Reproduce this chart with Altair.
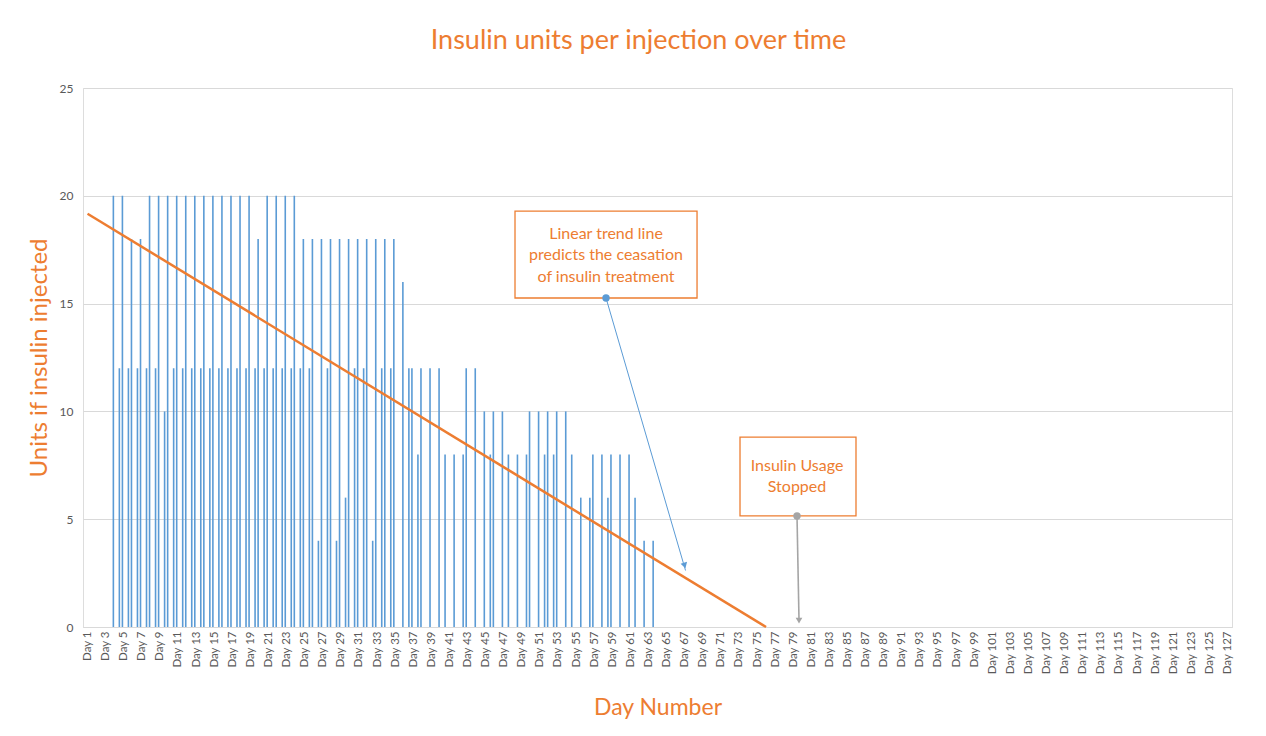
import altair as alt
import pandas as pd

ORANGE = "#ED7D31"
BLUE = "#5B9BD5"
GRAY = "#A5A5A5"
TXT = "#595959"
FONT = "Lato"

# ---- data ----
days = list(range(4, 64))
first_dose = [20, 20, 18, 18, 20, 20, 20, 20, 20, 20,          # days 4-13
              20, 20, 20, 20, 20, 20, 18, 20, 20, 20,          # days 14-23
              20, 18, 18, 18, 18, 18, 18, 18, 18, 18,          # days 24-33
              18, 18, 16, 12, 12, 12, 12, None, None, 12,      # days 34-43
              12, 10, 10, 10, None, None, 10, 10, 10, 10,      # days 44-53
              10, None, None, 8, 8, 8, 8, 8, None, None]       # days 54-63
second_dose = [12, 12, 12, 12, 12, 10, 12, 12, 12, 12,         # days 4-13
               12, 12, 12, 12, 12, 12, 12, 12, 12, 12,         # days 14-23
               12, 12, 4, 12, 4, 6, 12, 12, 4, 12,             # days 24-33
               12, None, 12, 8, None, None, 8, 8, 8, None,     # days 34-43
               None, 8, None, 8, 8, 8, None, 8, 8, None,       # days 44-53
               8, 6, 6, None, 6, None, None, 6, 4, 4]          # days 54-63

all_days = list(range(1, 128))
label_days = all_days[::2]

trend_days = [1, 76]
trend_units = [19.17, 0]

box_text = ["Linear trend line\npredicts the ceasation\nof insulin treatment",
            "Insulin Usage\nStopped"]
box_day = [48.25, 73.12]
box_day2 = [68.37, 85.94]
box_units = [19.29, 8.81]
box_units2 = [15.26, 5.15]
text_day = [58.31, 79.42]
text_units = [18.23, 7.47]

# arrows: start (dot), end
arrow_day = [58.31, 79.42]
arrow_units = [15.26, 5.15]
arrow_day2 = [67.1, 79.64]
arrow_units2 = [2.62, 0.35]
head_day = [67.0, 79.64]
head_units = [2.85, 0.3]

# ---- tables ----
df = pd.DataFrame({"day": days, "first": first_dose, "second": second_dose})
long = df.melt("day", var_name="dose", value_name="units").dropna()
trend = pd.DataFrame({"day": trend_days, "units": trend_units})
boxes = pd.DataFrame({"day": box_day, "day2": box_day2, "units": box_units,
                      "units2": box_units2})
texts = pd.DataFrame({"day": text_day, "units": text_units, "t": box_text})
arrows = pd.DataFrame({"day": arrow_day, "units": arrow_units,
                       "day2": arrow_day2, "units2": arrow_units2,
                       "hday": head_day, "hunits": head_units,
                       "which": ["trend", "stop"]})

xs = alt.Scale(domain=[0.5, 127.5], nice=False, zero=False, padding=0)
ys = alt.Scale(domain=[0, 25], nice=False, zero=True, padding=0)

x_axis = alt.Axis(values=label_days, labelExpr="'Day ' + datum.value",
                  labelAngle=-90, grid=False, ticks=False, domain=True,
                  domainColor="#D9D9D9", labelColor=TXT, labelFont=FONT,
                  labelFontSize=11.5, labelPadding=4, labelOverlap=False,
                  labelFlush=False, labelBound=False,
                  title="Day Number", titleColor=ORANGE, titleFont=FONT,
                  titleFontSize=23, titleFontWeight="normal", titlePadding=22)
y_axis = alt.Axis(values=[0, 5, 10, 15, 20, 25], domain=False, ticks=False,
                  grid=True, gridColor="#D9D9D9", labelColor=TXT,
                  labelFont=FONT, labelFontSize=12, labelPadding=10,
                  title="Units if insulin injected", titleColor=ORANGE,
                  titleFont=FONT, titleFontSize=24, titleFontWeight="normal",
                  titlePadding=8)

X = alt.X("day:Q", scale=xs, axis=x_axis)
Y = alt.Y("units:Q", scale=ys, axis=y_axis)

bars1 = alt.Chart(long).transform_filter("datum.dose == 'first'").mark_bar(
    width=1.6, xOffset=-1.3, color=BLUE).encode(x=X, y=Y)
bars2 = alt.Chart(long).transform_filter("datum.dose == 'second'").mark_bar(
    width=1.6, xOffset=4.7, color=BLUE).encode(x=X, y=Y)

trend_line = alt.Chart(trend).mark_line(color=ORANGE, strokeWidth=2.5).encode(
    x=X, y=Y)

arrow_trend = alt.Chart(arrows).transform_filter("datum.which == 'trend'").mark_rule(
    color=BLUE, strokeWidth=1).encode(x=X, y=Y, x2="day2:Q", y2="units2:Q")
arrow_stop = alt.Chart(arrows).transform_filter("datum.which == 'stop'").mark_rule(
    color=GRAY, strokeWidth=1.6).encode(x=X, y=Y, x2="day2:Q", y2="units2:Q")
head_trend = alt.Chart(arrows).transform_filter("datum.which == 'trend'").mark_point(
    shape="triangle-down", filled=True, size=45, angle=343.7, color=BLUE,
    opacity=1).encode(x=alt.X("hday:Q", scale=xs, axis=x_axis),
                      y=alt.Y("hunits:Q", scale=ys, axis=y_axis))
head_stop = alt.Chart(arrows).transform_filter("datum.which == 'stop'").mark_point(
    shape="triangle-down", filled=True, size=45, color=GRAY,
    opacity=1).encode(x=alt.X("hday:Q", scale=xs, axis=x_axis),
                      y=alt.Y("hunits:Q", scale=ys, axis=y_axis))

box = alt.Chart(boxes).mark_rect(fill="white", stroke=ORANGE,
                                 strokeWidth=1.3).encode(
    x=X, y=Y, x2="day2:Q", y2="units2:Q")
box_labels = alt.Chart(texts).mark_text(
    color=ORANGE, font=FONT, fontSize=16, lineBreak="\n", lineHeight=21.5,
    align="center", baseline="middle").encode(x=X, y=Y, text="t:N")

dot_trend = alt.Chart(arrows).transform_filter("datum.which == 'trend'").mark_circle(
    size=55, color=BLUE, opacity=1).encode(x=X, y=Y)
dot_stop = alt.Chart(arrows).transform_filter("datum.which == 'stop'").mark_circle(
    size=55, color=GRAY, opacity=1).encode(x=X, y=Y)

chart = alt.layer(
    bars1, bars2, trend_line, arrow_trend, arrow_stop, head_trend, head_stop,
    box, box_labels, dot_trend, dot_stop
).properties(
    width=1149, height=539,
    title=alt.TitleParams("Insulin units per injection over time",
                          color=ORANGE, font=FONT, fontSize=27,
                          fontWeight="normal", anchor="middle", dx=-19,
                          offset=27),
    autosize=alt.AutoSizeParams(type="none"),
    padding={"left": 75, "top": 80, "right": 26, "bottom": 101},
).configure_view(stroke=None).configure(background="white")

chart.save("out.html", embed_options={"renderer": "svg", "actions": False})
